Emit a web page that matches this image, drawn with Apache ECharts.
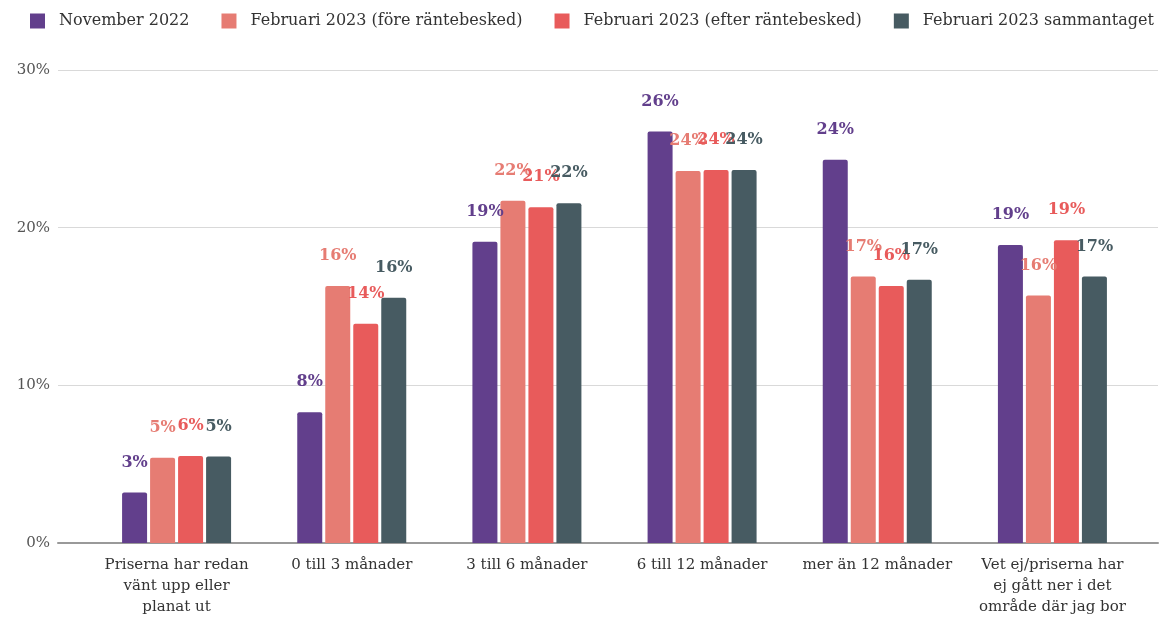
<!DOCTYPE html>
<html><head><meta charset="utf-8">
<script src="https://cdn.jsdelivr.net/npm/echarts@6/dist/echarts.min.js"></script>
<style>html,body{margin:0;padding:0;background:#fff}#c{width:1160px;height:619px}</style>
</head><body><div id="c"></div>
<script>
const categories = [
  "Priserna har redan\nvänt upp eller\nplanat ut",
  "0 till 3 månader",
  "3 till 6 månader",
  "6 till 12 månader",
  "mer än 12 månader",
  "Vet ej/priserna har\nej gått ner i det\nområde där jag bor"
];
const seriesNames = [
  "November 2022",
  "Februari 2023 (före räntebesked)",
  "Februari 2023 (efter räntebesked)",
  "Februari 2023 sammantaget"
];
const nov2022 = [3.2, 8.3, 19.1, 26.1, 24.3, 18.9];
const febFore = [5.4, 16.3, 21.7, 23.6, 16.9, 15.7];
const febEfter = [5.52, 13.9, 21.3, 23.65, 16.3, 19.2];
const febSamman = [5.48, 15.55, 21.55, 23.65, 16.7, 16.9];
const yTicks = [0, 10, 20, 30];

const colors = ["#623F8C", "#E67C73", "#E85B5B", "#475B62"];
const FONT = "DejaVu Serif";
const seriesData = [nov2022, febFore, febEfter, febSamman];

const chart = echarts.init(document.getElementById('c'));
chart.setOption({
  animation: false,
  color: colors,
  legend: {
    left: 30, top: 13, width: 1130, padding: 0,
    itemWidth: 15, itemHeight: 15, itemGap: 32,
    icon: 'rect',
    textStyle: { fontFamily: FONT, fontSize: 16, color: '#333', padding: [0, 0, 0, 9] },
    data: seriesNames
  },
  grid: [
    { left: 89, right: 20, top: 70, bottom: 76 },
    { left: 58, right: 2, top: 70, bottom: 76 }
  ],
  xAxis: [
    {
      type: 'category', gridIndex: 0, data: categories,
      axisLine: { show: false }, axisTick: { show: false },
      axisLabel: { interval: 0, margin: 12, fontFamily: FONT, fontSize: 15, color: '#333', lineHeight: 21 }
    },
    {
      type: 'value', gridIndex: 1, min: 0, max: 1,
      axisLine: { show: true, lineStyle: { color: '#999', width: 2 } },
      axisTick: { show: false }, axisLabel: { show: false }, splitLine: { show: false }
    }
  ],
  yAxis: [
    { type: 'value', gridIndex: 0, min: 0, max: 30, interval: 10, show: false },
    {
      type: 'value', gridIndex: 1, min: yTicks[0], max: yTicks[yTicks.length - 1], interval: 10,
      axisLine: { show: false }, axisTick: { show: false },
      axisLabel: { margin: 8, fontFamily: FONT, fontSize: 15, color: '#555', formatter: '{value}%' },
      splitLine: { lineStyle: { color: '#d9d9d9', width: 1 } }
    }
  ],
  series: seriesNames.map((name, i) => ({
    name: name, type: 'bar', xAxisIndex: 0, yAxisIndex: 0,
    data: seriesData[i],
    barWidth: 25, barGap: '12%',
    itemStyle: { color: colors[i], borderRadius: [2, 2, 0, 0] },
    label: {
      show: true, position: 'top', distance: 22,
      fontFamily: FONT, fontWeight: 'bold', fontSize: 16, color: colors[i],
      formatter: p => Math.round(p.value) + '%'
    }
  }))
});
</script></body></html>
